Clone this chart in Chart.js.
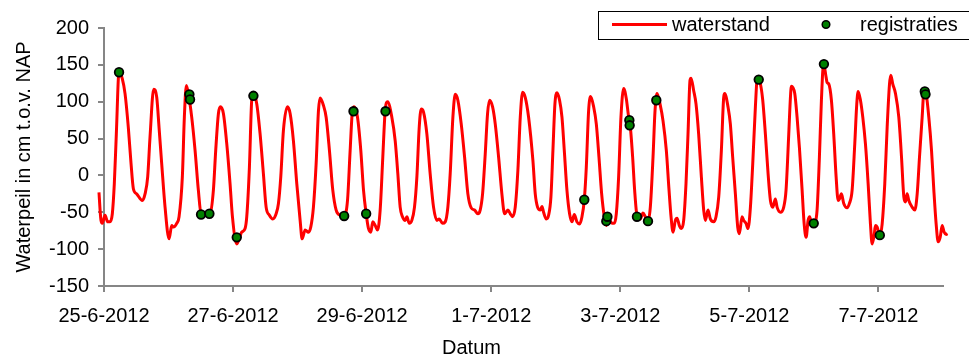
<!DOCTYPE html>
<html>
<head>
<meta charset="utf-8">
<script src="https://cdn.jsdelivr.net/npm/chart.js@4.4.0/dist/chart.umd.min.js"></script>
<style>
    html, body { margin: 0; padding: 0; background: #fff; }
    #wrap { width: 969px; height: 358px; }
</style>
</head>
<body>
<div id="wrap"><canvas id="getijChart" width="969" height="358"></canvas></div>
<script>
// tijd in dagen na 25-6-2012 00:00
const tijd = [
    -0.078, -0.047, -0.026, 0.016, 0.057, 0.093, 0.129, 0.160, 0.191, 0.233, 0.284, 0.326, 0.377, 0.419, 0.455, 0.506, 0.594, 0.636, 0.677, 0.713,
    0.770, 0.817, 0.853, 0.894, 0.946, 1.008, 1.049, 1.075, 1.127, 1.163, 1.214, 1.245, 1.276, 1.307, 1.359, 1.411, 1.462, 1.504, 1.566, 1.643,
    1.695, 1.731, 1.773, 1.804, 1.850, 1.902, 1.953, 1.990, 2.057, 2.134, 2.186, 2.212, 2.253, 2.289, 2.315, 2.367, 2.419, 2.470, 2.512, 2.563,
    2.615, 2.667, 2.703, 2.739, 2.780, 2.842, 2.884, 2.935, 2.987, 3.039, 3.070, 3.116, 3.168, 3.204, 3.245, 3.287, 3.323, 3.349, 3.400, 3.442,
    3.493, 3.545, 3.597, 3.659, 3.721, 3.773, 3.814, 3.850, 3.876, 3.928, 3.979, 4.021, 4.062, 4.098, 4.134, 4.165, 4.202, 4.238, 4.279, 4.320,
    4.357, 4.395, 4.460, 4.512, 4.553, 4.589, 4.625, 4.667, 4.693, 4.729, 4.770, 4.811, 4.848, 4.884, 4.915, 4.951, 5.003, 5.054, 5.106, 5.158,
    5.194, 5.245, 5.287, 5.328, 5.364, 5.406, 5.442, 5.483, 5.535, 5.587, 5.638, 5.690, 5.742, 5.793, 5.829, 5.866, 5.907, 5.943, 5.974, 6.021,
    6.062, 6.114, 6.165, 6.207, 6.258, 6.295, 6.331, 6.372, 6.413, 6.450, 6.486, 6.527, 6.579, 6.646, 6.682, 6.718, 6.760, 6.786, 6.811, 6.853,
    6.889, 6.925, 6.956, 6.987, 7.018, 7.059, 7.096, 7.132, 7.173, 7.214, 7.251, 7.287, 7.328, 7.369, 7.406, 7.442, 7.473, 7.509, 7.540, 7.587,
    7.628, 7.669, 7.711, 7.752, 7.783, 7.819, 7.871, 7.907, 7.938, 7.974, 8.010, 8.052, 8.093, 8.129, 8.155, 8.191, 8.222, 8.258, 8.310, 8.351,
    8.388, 8.424, 8.465, 8.507, 8.538, 8.569, 8.620, 8.662, 8.713, 8.755, 8.786, 8.817, 8.853, 8.879, 8.915, 8.946, 8.982, 9.018, 9.049, 9.080,
    9.096, 9.137, 9.173, 9.214, 9.256, 9.292, 9.318, 9.359, 9.395, 9.447, 9.483, 9.525, 9.566, 9.602, 9.618, 9.669, 9.705, 9.741, 9.783, 9.819,
    9.845, 9.886, 9.912, 9.948, 9.979, 10.016, 10.052, 10.093, 10.124, 10.171, 10.207, 10.248, 10.290, 10.326, 10.362, 10.403, 10.429, 10.481, 10.532, 10.568,
    10.610, 10.636, 10.651, 10.703, 10.739, 10.775, 10.817, 10.848, 10.879, 10.910, 10.935, 10.972, 11.013, 11.049, 11.085, 11.116, 11.150, 11.189, 11.204, 11.230,
    11.271, 11.307, 11.344, 11.375, 11.395, 11.426, 11.462, 11.514, 11.550, 11.592, 11.633, 11.664, 11.685, 11.721, 11.757, 11.798, 11.840, 11.876, 11.902, 11.933,
    11.953, 11.979, 12.021, 12.057, 12.098, 12.135, 12.171, 12.191, 12.222, 12.264, 12.315, 12.357, 12.393, 12.419, 12.444, 12.470, 12.522, 12.563, 12.600, 12.636,
    12.677, 12.708, 12.739, 12.780, 12.822, 12.858, 12.894, 12.925, 12.956, 12.987, 13.018, 13.049, 13.070
];

// waterstand in cm t.o.v. NAP
const waterstand = [
    -23, -61, -65, -54, -63, -63, -52, -11, 56, 141, 131, 111, 65, 16, -18, -25, -34, -25, -2, 52,
    117, 106, 65, 16, -43, -86, -68, -70, -65, -56, -2, 79, 122, 111, 79, 34, -20, -52, -54, -52,
    -20, 34, 84, 93, 84, 43, -11, -56, -93, -77, -72, -56, 11, 102, 111, 97, 56, 2, -43, -54,
    -59, -52, -38, -2, 61, 93, 84, 47, -11, -61, -86, -74, -77, -70, -43, 16, 88, 105, 95, 79,
    34, -20, -47, -54, -55, -34, 34, 88, 93, 79, 34, -20, -52, -72, -77, -63, -68, -74, -47, 25,
    88, 100, 79, 47, 2, -43, -56, -61, -56, -65, -61, -43, -2, 65, 90, 86, 56, 2, -43, -61,
    -59, -65, -63, -43, 2, 79, 110, 102, 70, 25, -25, -44, -47, -52, -47, -25, 29, 84, 102, 93,
    70, 25, -25, -52, -47, -52, -56, -43, 7, 79, 113, 106, 79, 20, -25, -43, -47, -42, -50, -59,
    -54, -29, 34, 97, 112, 102, 79, 34, -20, -52, -63, -53, -63, -66, -56, -33, 11, 88, 107, 93,
    70, 25, -25, -56, -68, -59, -65, -65, -52, -2, 79, 118, 104, 79, 66, 25, -20, -54, -59, -51,
    -56, -63, -43, 25, 88, 111, 95, 74, 34, -20, -56, -77, -61, -58, -68, -72, -61, -11, 56, 129,
    132, 115, 97, 56, -2, -47, -61, -47, -59, -63, -56, -29, 34, 106, 111, 93, 70, 25, -25, -70,
    -79, -56, -61, -65, -72, -43, 16, 93, 133, 124, 102, 56, 2, -34, -43, -32, -43, -50, -43, -20,
    56, 106, 121, 111, 79, 38, -20, -65, -84, -61, -56, -68, -65, -47, 25, 102, 152, 133, 126, 124,
    102, 56, -2, -34, -32, -25, -38, -44, -38, -20, 43, 97, 114, 102, 79, 43, -11, -66, -93, -81,
    -68, -70, -81, -66, -11, 66, 124, 136, 124, 111, 79, 25, -29, -36, -25, -34, -43, -47, -25, 25,
    79, 118, 111, 79, 34, -20, -66, -90, -84, -68, -77, -80, -79
];

const tijdRegistratie = [
    0.233, 1.323, 1.333, 1.504, 1.633, 2.057, 2.315, 3.721, 3.866, 4.062, 4.362, 7.442, 7.783,
    7.800, 8.140, 8.145, 8.258, 8.429, 8.558, 10.145, 10.997, 11.155, 12.021, 12.718, 12.729
];
const registraties = [
    140, 110, 103, -53, -52, -84, 108, -55, 87, -52, 87, -33, -62,
    -56, 75, 68, -56, -62, 102, 130, -65, 151, -81, 114, 110
];

const tickDagen = [0, 2, 4, 6, 8, 10, 12];
const tickLabels = ['25-6-2012', '27-6-2012', '29-6-2012', '1-7-2012', '3-7-2012', '5-7-2012', '7-7-2012'];

const FONT_FAMILY = '"Liberation Sans", Arial, sans-serif';
const FONT_SIZE = 20;
const AXIS_GREY = '#868686';

// Legend with frame, drawn like the Excel original
const frameLegend = {
    id: 'frameLegend',
    afterDraw(chart) {
        const ctx = chart.ctx;
        const sets = chart.data.datasets;
        ctx.save();
        ctx.fillStyle = '#ffffff';
        ctx.fillRect(598, 11, 380, 28);
        ctx.strokeStyle = '#000000';
        ctx.lineWidth = 1;
        ctx.strokeRect(598.5, 11.5, 380, 28);

        ctx.strokeStyle = sets[0].borderColor;
        ctx.lineWidth = 3;
        ctx.beginPath();
        ctx.moveTo(612, 24.5);
        ctx.lineTo(667, 24.5);
        ctx.stroke();

        ctx.beginPath();
        ctx.arc(826, 24.5, 3.8, 0, Math.PI * 2);
        ctx.fillStyle = sets[1].pointBackgroundColor;
        ctx.fill();
        ctx.lineWidth = 1.5;
        ctx.strokeStyle = sets[1].pointBorderColor;
        ctx.stroke();

        ctx.fillStyle = '#000000';
        ctx.font = FONT_SIZE + 'px ' + FONT_FAMILY;
        ctx.textBaseline = 'middle';
        ctx.fillText(sets[0].label, 672, 25.5);
        ctx.fillText(sets[1].label, 860, 25.5);
        ctx.restore();
    }
};

const ctx = document.getElementById('getijChart').getContext('2d');

const getijChart = new Chart(ctx, {
    type: 'line',
    data: {
        datasets: [{
            label: 'waterstand',
            data: tijd.map((t, i) => ({ x: t, y: waterstand[i] })),
            borderColor: '#ff0000',
            borderWidth: 3,
            pointRadius: 0,
            cubicInterpolationMode: 'monotone',
            fill: false,
            clip: 8,
            order: 2
        }, {
            label: 'registraties',
            data: tijdRegistratie.map((t, i) => ({ x: t, y: registraties[i] })),
            showLine: false,
            pointRadius: 4.3,
            pointBackgroundColor: '#008000',
            pointBorderColor: '#000000',
            pointBorderWidth: 1.8,
            clip: 8,
            order: 1
        }]
    },
    options: {
        responsive: false,
        animation: false,
        layout: {
            padding: { top: 28, right: 26, left: 0, bottom: 0 }
        },
        font: { family: FONT_FAMILY, size: FONT_SIZE },
        plugins: {
            legend: { display: false },
            tooltip: { enabled: false },
            title: {
                display: true,
                text: 'Datum',
                position: 'bottom',
                color: '#000',
                font: { family: FONT_FAMILY, size: FONT_SIZE, weight: 'normal', lineHeight: 1 },
                padding: { top: 0, bottom: 0 }
            }
        },
        scales: {
            x: {
                type: 'linear',
                bounds: 'data',
                afterDataLimits: (s) => { s.min = 0; s.max = 13; },
                afterBuildTicks: (s) => { s.ticks = tickDagen.map(v => ({ value: v })); },
                afterFit: (s) => { s.height = 52; },
                grid: {
                    drawOnChartArea: false,
                    color: AXIS_GREY,
                    lineWidth: 2,
                    tickLength: 6
                },
                border: { color: AXIS_GREY, width: 2 },
                ticks: {
                    autoSkip: false,
                    maxRotation: 0,
                    padding: 12,
                    color: '#000',
                    font: { family: FONT_FAMILY, size: FONT_SIZE },
                    callback: (v) => {
                        const i = tickDagen.indexOf(v);
                        return i >= 0 ? tickLabels[i] : '';
                    }
                }
            },
            y: {
                min: -150,
                max: 200,
                afterFit: (s) => { s.width = 104; },
                grid: {
                    drawOnChartArea: false,
                    color: AXIS_GREY,
                    lineWidth: 2,
                    tickLength: 6
                },
                border: { color: AXIS_GREY, width: 2 },
                ticks: {
                    stepSize: 50,
                    padding: 9,
                    color: '#000',
                    font: { family: FONT_FAMILY, size: FONT_SIZE }
                },
                title: {
                    display: true,
                    text: 'Waterpeil in cm t.o.v. NAP',
                    color: '#000',
                    font: { family: FONT_FAMILY, size: FONT_SIZE },
                    padding: { top: 12, bottom: 0 }
                }
            }
        }
    },
    plugins: [frameLegend]
});
</script>
</body>
</html>
